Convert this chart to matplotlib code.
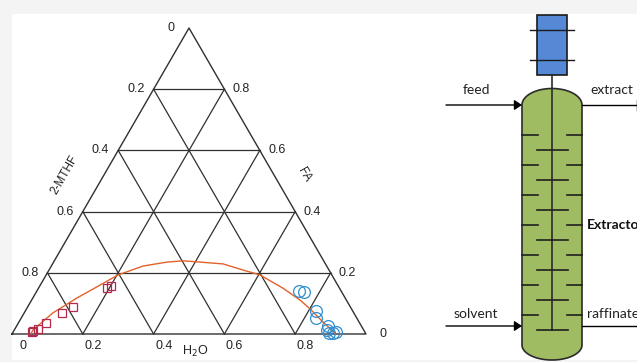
import numpy as np
import matplotlib
matplotlib.use("Agg")
import matplotlib.pyplot as plt
from matplotlib.patches import Rectangle, Polygon

plt.rcParams['font.family'] = ['Liberation Sans', 'DejaVu Sans']

# ternary data, fractions of H2O and FA
square_h2o = [0.054, 0.054, 0.064, 0.078, 0.105, 0.127, 0.192, 0.201]
square_fa = [0.006, 0.010, 0.017, 0.035, 0.070, 0.089, 0.151, 0.157]
circle_h2o = [0.739, 0.756, 0.823, 0.834, 0.880, 0.883, 0.894, 0.907, 0.911]
circle_fa = [0.1415, 0.136, 0.074, 0.051, 0.025, 0.014, 0.004, 0.002, 0.006]
curve_h2o = [0.053, 0.053, 0.081, 0.125, 0.169, 0.203, 0.259, 0.320, 0.364, 0.414,
             0.482, 0.548, 0.604, 0.690, 0.758, 0.801, 0.859, 0.911]
curve_fa = [0.002, 0.013, 0.069, 0.118, 0.160, 0.193, 0.222, 0.235, 0.239, 0.235,
            0.229, 0.209, 0.193, 0.150, 0.111, 0.082, 0.039, 0.003]
grid_ticks = [0.2, 0.4, 0.6, 0.8]
h2o_labels = ['0', '0.2', '0.4', '0.6', '0.8']
fa_labels = ['0', '0.2', '0.4', '0.6', '0.8']
mthf_labels = ['0', '0.2', '0.4', '0.6', '0.8']

# triangle corners in figure pixels
LEFT, RIGHT, BASE, APEX = 12.0, 366.0, 334.0, 28.0


def tern(h2o, fa):
    h2o = np.asarray(h2o, dtype=float)
    fa = np.asarray(fa, dtype=float)
    return LEFT + (RIGHT - LEFT) * (h2o + fa / 2), BASE - (BASE - APEX) * fa


fig = plt.figure(figsize=(6.37, 3.62), dpi=100, facecolor='#f4f4f4')
ax = fig.add_axes([0, 0, 1, 1])
ax.set_xlim(0, 637)
ax.set_ylim(362, 0)
ax.axis('off')
ax.add_patch(Rectangle((12, 14), 625, 346, facecolor='white', edgecolor='none', zorder=0))

# triangle outline and grid
line_col = '#303030'
x, y = tern([0, 1, 0, 0], [0, 0, 1, 0])
ax.plot(x, y, color=line_col, lw=1.0, zorder=2)
for t in grid_ticks:
    for a, b in [((0, t), (1 - t, t)), ((t, 0), (t, 1 - t)), ((t, 0), (0, t))]:
        x, y = tern([a[0], b[0]], [a[1], b[1]])
        ax.plot(x, y, color=line_col, lw=0.9, zorder=2)

# curve and measured points
x, y = tern(curve_h2o, curve_fa)
ax.plot(x, y, color='#e2622a', lw=1.0, zorder=3)
x, y = tern(square_h2o, square_fa)
ax.plot(x, y, ls='none', marker='s', ms=6.3, mfc='none', mec='#b3294e', mew=0.9, zorder=4)
x, y = tern(circle_h2o, circle_fa)
ax.plot(x, y, ls='none', marker='o', ms=8.5, mfc='none', mec='#2f8fd0', mew=0.9, zorder=4)

# tick labels
fs = 9.0
for i, lab in enumerate(h2o_labels):
    ax.text(23 + i * 70.5, 346, lab, ha='center', va='center', fontsize=fs, color='#222222')
for i, lab in enumerate(fa_labels):
    ax.text(383 - i * 35.4, 334 - i * 61.2, lab, ha='center', va='center', fontsize=fs, color='#222222')
for i, lab in enumerate(mthf_labels):
    ax.text(171 - i * 35.2, 28 + i * 61.2, lab, ha='center', va='center', fontsize=fs, color='#222222')
ax.text(65, 175, '2-MTHF', rotation=60, ha='center', va='center', fontsize=8.5, color='#222222')
ax.text(304, 175, 'FA', rotation=-60, ha='center', va='center', fontsize=8.5, color='#222222')
ax.text(195, 351, 'H$_2$O', ha='center', va='center', fontsize=9, color='#222222',
        math_fontfamily='custom')

# extractor column
cx, half = 552.0, 30.0
t = np.linspace(np.pi, 0, 60)
top_x = cx + half * np.cos(t)
top_y = 105 - 16.5 * np.sin(t)
bot_x = cx - half * np.cos(t)
bot_y = 345 + 15 * np.sin(t)
ax.add_patch(Polygon(np.column_stack([np.r_[top_x, bot_x], np.r_[top_y, bot_y]]), closed=True,
                     facecolor='#9fbc62', edgecolor='#2b2b2b', lw=1.2, zorder=2))
ax.add_patch(Rectangle((536.7, 14.5), 30, 60, facecolor='#5589d6', edgecolor='#1a1a1a', lw=1.2, zorder=2))
for yy in [29.5, 59.5]:
    ax.plot([530, 573.5], [yy, yy], color='#1a1a1a', lw=1.0, zorder=3)
ax.plot([cx, cx], [75, 330], color='#2b2b2b', lw=1.2, zorder=3)
for yy in np.arange(150, 331, 30):
    ax.plot([536.5, 567.5], [yy, yy], color='#1f1f1f', lw=1.2, zorder=3)
for yy in np.arange(135, 316, 30):
    ax.plot([521.7, 537.5], [yy, yy], color='#1f1f1f', lw=1.2, zorder=3)
    ax.plot([566.5, 582], [yy, yy], color='#1f1f1f', lw=1.2, zorder=3)

# streams
for yy in [105, 326]:
    ax.annotate('', xy=(522, yy), xytext=(446, yy), zorder=4,
                arrowprops=dict(arrowstyle='-|>,head_width=0.3,head_length=0.45', color='black', lw=1.0,
                                shrinkA=0, shrinkB=0))
    ax.plot([582, 637], [yy, yy], color='black', lw=1.0, zorder=2)
ax.plot([636.5, 636.5], [100, 110], color='black', lw=1.0, zorder=2)

col_font = ['Lato', 'DejaVu Sans']
ax.text(476, 90, 'feed', ha='center', va='center', fontsize=10, family=col_font, color='#222222')
ax.text(590, 90, 'extract', ha='left', va='center', fontsize=10, family=col_font, color='#222222')
ax.text(476, 314, 'solvent', ha='center', va='center', fontsize=10, family=col_font, color='#222222')
ax.text(587, 314, 'raffinate', ha='left', va='center', fontsize=10, family=col_font, color='#222222')
ax.text(587, 225, 'Extractor', ha='left', va='center', fontsize=10, fontweight='bold', family=col_font,
        color='#111111')

fig.savefig('out.png', dpi=100, facecolor=fig.get_facecolor())
